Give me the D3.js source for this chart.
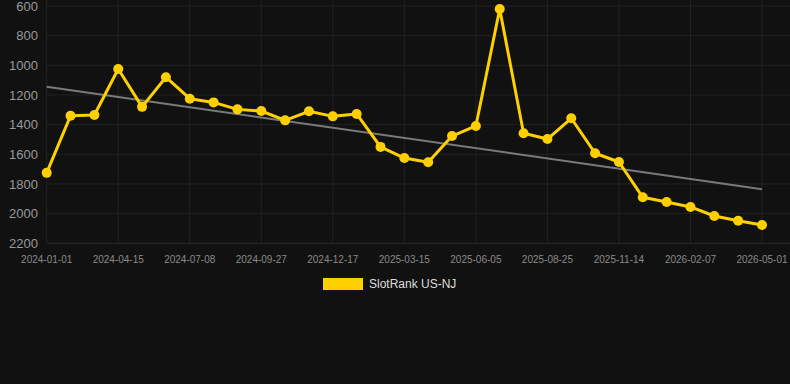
<!DOCTYPE html>
<html><head><meta charset="utf-8">
<script src="https://cdn.jsdelivr.net/npm/d3@7"></script>
<style>
html,body{margin:0;padding:0;background:#111111;}
svg{display:block;font-family:"Liberation Sans",Arial,sans-serif;}
</style></head>
<body><svg id="c" width="790" height="384"></svg>
<script>
const tickLabels = ["2024-01-01","2024-04-15","2024-07-08","2024-09-27","2024-12-17","2025-03-15","2025-06-05","2025-08-25","2025-11-14","2026-02-07","2026-05-01"];
const rankValues = [1725,1340,1335,1025,1280,1080,1225,1250,1297,1308,1371,1310,1344,1328,1550,1625,1654,1477,1409,620,1458,1497,1357,1593,1652,1890,1922,1955,2016,2048,2077];
const trendValues = [1145,1835];
const yTicks = [600,800,1000,1200,1400,1600,1800,2000,2200];
const seriesName = "SlotRank US-NJ";

const svg = d3.select("#c");
const m = {l:46.7, r:762, t:6, b:243.3};
const x = d3.scaleLinear().domain([0, rankValues.length-1]).range([m.l, m.r]);
const y = d3.scaleLinear().domain([600,2200]).range([m.t, m.b]);
const step = (rankValues.length-1)/(tickLabels.length-1);

// grid
const g = svg.append("g");
g.selectAll("line.h").data(yTicks).join("line")
  .attr("x1", m.l).attr("x2", 790).attr("y1", d=>y(d)).attr("y2", d=>y(d))
  .attr("stroke", d=> d===2200 ? "#2e2e2e" : "#222222").attr("stroke-width",1);
g.selectAll("line.v").data(tickLabels).join("line")
  .attr("x1",(d,i)=>x(i*step)).attr("x2",(d,i)=>x(i*step))
  .attr("y1", 0).attr("y2", m.b)
  .attr("stroke","#222222").attr("stroke-width",1);

// y labels
svg.append("g").selectAll("text").data(yTicks).join("text")
  .attr("x", 38).attr("y", d=>y(d)).attr("dy","0.35em")
  .attr("text-anchor","end").attr("fill","#9a9a9a").attr("font-size",13)
  .text(d=>d);

// x labels
svg.append("g").selectAll("text").data(tickLabels).join("text")
  .attr("x",(d,i)=>x(i*step)).attr("y", 259).attr("dy","0.35em")
  .attr("text-anchor","middle").attr("fill","#8a8a8a").attr("font-size",10)
  .text(d=>d);

// trend
svg.append("line")
  .attr("x1", x(0)).attr("x2", x(rankValues.length-1))
  .attr("y1", y(trendValues[0])).attr("y2", y(trendValues[1]))
  .attr("stroke","#7a7a7a").attr("stroke-width",2);

// series
const col = "#FFD000";
svg.append("path").datum(rankValues)
  .attr("d", d3.line().x((d,i)=>x(i)).y(d=>y(d)))
  .attr("fill","none").attr("stroke",col).attr("stroke-width",3).attr("stroke-linejoin","round");
svg.append("g").selectAll("circle").data(rankValues).join("circle")
  .attr("cx",(d,i)=>x(i)).attr("cy",d=>y(d)).attr("r",5).attr("fill",col);

// legend
svg.append("rect").attr("x",323).attr("y",278).attr("width",40).attr("height",12).attr("fill",col);
svg.append("text").attr("x",369).attr("y",284).attr("dy","0.35em")
  .attr("fill","#dddddd").attr("font-size",12).text(seriesName);
</script></body></html>
